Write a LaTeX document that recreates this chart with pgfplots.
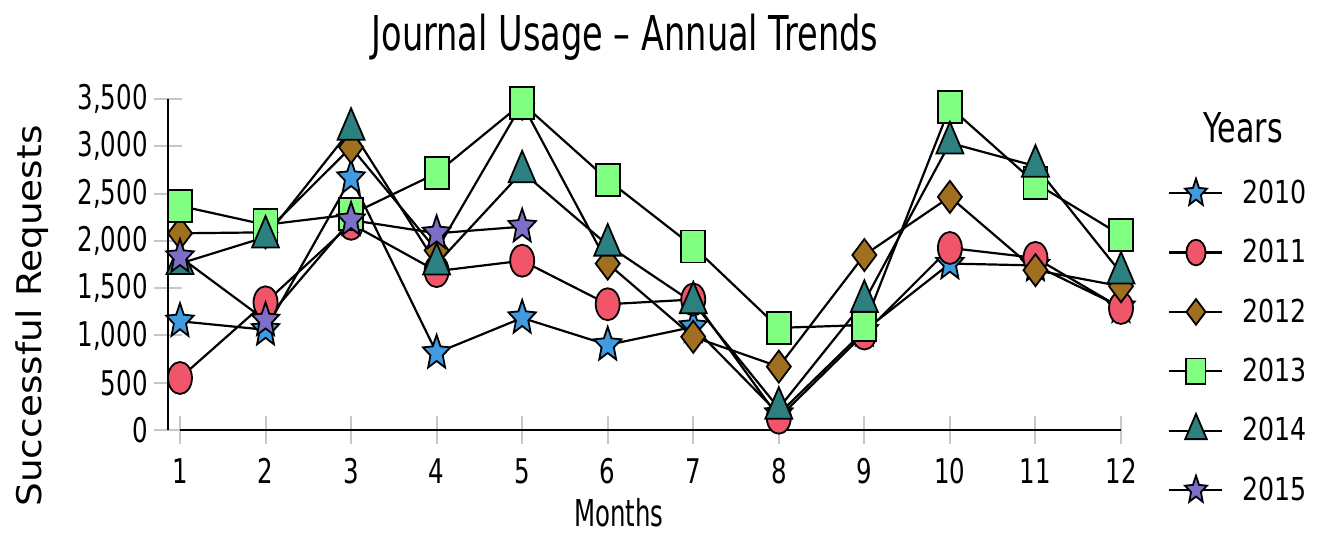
\documentclass[border=0pt]{standalone}
\usepackage{pgfplots}
\pgfplotsset{compat=1.18}
\usepackage{pgfplotstable}
\usetikzlibrary{plotmarks}
\usepackage{fontspec}
\setmainfont{DejaVu Sans}
\newfontfamily\tickfamily{DejaVu Sans}[FakeStretch=0.72]
\newfontfamily\legfamily{DejaVu Sans}[FakeStretch=0.8]
\newfontfamily\titlefamily{DejaVu Sans}[FakeStretch=0.70]
\newfontfamily\xlabfamily{DejaVu Sans}[FakeStretch=0.66]
\newfontfamily\yearsfamily{DejaVu Sans}[FakeStretch=0.73]
\newfontfamily\ylabfamily{DejaVu Sans}[FakeStretch=1.1]
\definecolor{c2010}{RGB}{65,155,225}
\definecolor{c2011}{RGB}{240,85,105}
\definecolor{c2012}{RGB}{160,112,32}
\definecolor{c2013}{RGB}{128,255,128}
\definecolor{c2014}{RGB}{45,128,128}
\definecolor{c2015}{RGB}{125,110,200}
% filled five-pointed star mark
\pgfdeclareplotmark{fstar}{%
  \pgfpathmoveto{\pgfpointpolar{90}{\pgfplotmarksize}}%
  \pgfpathlineto{\pgfpointpolar{126}{0.45\pgfplotmarksize}}%
  \pgfpathlineto{\pgfpointpolar{162}{\pgfplotmarksize}}%
  \pgfpathlineto{\pgfpointpolar{198}{0.45\pgfplotmarksize}}%
  \pgfpathlineto{\pgfpointpolar{234}{\pgfplotmarksize}}%
  \pgfpathlineto{\pgfpointpolar{270}{0.45\pgfplotmarksize}}%
  \pgfpathlineto{\pgfpointpolar{306}{\pgfplotmarksize}}%
  \pgfpathlineto{\pgfpointpolar{342}{0.45\pgfplotmarksize}}%
  \pgfpathlineto{\pgfpointpolar{18}{\pgfplotmarksize}}%
  \pgfpathlineto{\pgfpointpolar{54}{0.45\pgfplotmarksize}}%
  \pgfpathclose
  \pgfusepathqfillstroke}
\pgfplotstableread{
m a b c d e f
1 1150 550 2080 2370 1760 1830
2 1060 1350 2090 2170 2040 1160
3 2665 2180 2990 2280 3180 2220
4 815 1680 1900 2715 1755 2080
5 1185 1790 3450 3455 2730 2150
6 900 1330 1760 2645 1955 nan
7 1090 1380 985 1940 1345 nan
8 170 130 670 1080 230 nan
9 1050 1020 1850 1110 1360 nan
10 1760 1925 2465 3415 3035 nan
11 1740 1820 1690 2610 2790 nan
12 1300 1290 1520 2060 1660 nan
}\data
% pixel (x,y) of the reference -> picture coordinates (axis box origin at pixel 168,430)
\newcommand\PX[2]{({(#1-168)*0.5pt},{(430-#2)*0.5pt})}
\begin{document}
\begin{tikzpicture}
\path[use as bounding box] (-84pt,-51pt) rectangle (574.5pt,215pt);
\begin{axis}[
  scale only axis, width=476.5pt, height=165.5pt,
  xmin=0.86, xmax=12, ymin=0, ymax=3500,
  clip=false,
  axis line style={draw=none},
  xtick={1,...,12}, ytick={0,500,...,3500},
  yticklabels={0,500,{1,000},{1,500},{2,000},{2,500},{3,000},{3,500}},
  minor tick num=0,
  tick align=center, major tick length=14pt,
  tick style={color=black!22, line width=1pt},
  xtick pos=bottom, ytick pos=left,
  /pgf/number format/assume math mode=true,
  ticklabel style={font=\tickfamily\fontsize{17pt}{20pt}\selectfont, inner sep=0pt},
  xticklabel style={anchor=north, yshift=-7pt},
  yticklabel style={anchor=east, xshift=-3pt},
  legend cell align=left,
  legend style={at={(1.0493,0.8066)}, anchor=north west, draw=none, fill=none,
    inner sep=0pt, row sep=0pt, column sep=9.5pt,
    nodes={inner sep=0pt, minimum height=29.7pt, text depth=0.15em,
      font=\legfamily\fontsize{15.8pt}{18pt}\selectfont}},
  mk/.style={only marks, mark options={draw=black, line width=0.9pt, fill=#1, solid}},
  legend image code/.code={
    \draw[black, line width=1.1pt, solid] (0pt,0pt) -- (26.5pt,0pt);
    \draw[every mark/.append style={scale=0.8}] plot coordinates {(13.25pt,0pt)};
  },
]
\draw[black, line width=1.2pt] (axis cs:1,0) -- (axis cs:12,0);
\draw[black, line width=1.2pt] (axis cs:0.86,0) -- (axis cs:0.86,3500);
\addplot[black, line width=1.1pt, no marks, forget plot] table[x=m,y=a]{\data};
\addplot[black, line width=1.1pt, no marks, forget plot] table[x=m,y=b]{\data};
\addplot[black, line width=1.1pt, no marks, forget plot] table[x=m,y=c]{\data};
\addplot[black, line width=1.1pt, no marks, forget plot] table[x=m,y=d]{\data};
\addplot[black, line width=1.1pt, no marks, forget plot] table[x=m,y=e]{\data};
\addplot[black, line width=1.1pt, no marks, forget plot] table[x=m,y=f]{\data};
\addplot[mk=c2010, mark=fstar, mark size=9pt, every mark/.append style={xscale=0.8}] table[x=m,y=a]{\data};
\addlegendentry{2010}
\addplot[mk=c2011, mark=*, mark size=8pt, every mark/.append style={xscale=0.75}] table[x=m,y=b]{\data};
\addlegendentry{2011}
\addplot[mk=c2012, mark=diamond*, mark size=8pt] table[x=m,y=c]{\data};
\addlegendentry{2012}
\addplot[mk=c2013, mark=square*, mark size=8pt, every mark/.append style={xscale=0.75}] table[x=m,y=d]{\data};
\addlegendentry{2013}
\addplot[mk=c2014, mark=triangle*, mark size=10.5pt, every mark/.append style={xscale=0.74}] table[x=m,y=e]{\data};
\addlegendentry{2014}
\addplot[mk=c2015, mark=fstar, mark size=9pt, every mark/.append style={xscale=0.8}] table[x=m,y=f]{\data};
\addlegendentry{2015}
\end{axis}
\node[anchor=base, inner sep=0pt, font=\titlefamily\fontsize{24pt}{28pt}\selectfont] at \PX{625}{50} {Journal Usage – Annual Trends};
\node[anchor=base, inner sep=0pt, font=\xlabfamily\fontsize{18.5pt}{22pt}\selectfont] at \PX{619}{526} {Months};
\node[anchor=base, inner sep=0pt, rotate=90, font=\ylabfamily\fontsize{17pt}{20pt}\selectfont] at \PX{42}{316} {Successful Requests};
\node[anchor=base, inner sep=0pt, font=\yearsfamily\fontsize{20.6pt}{24pt}\selectfont] at \PX{1243}{142} {Years};
\end{tikzpicture}
\end{document}
